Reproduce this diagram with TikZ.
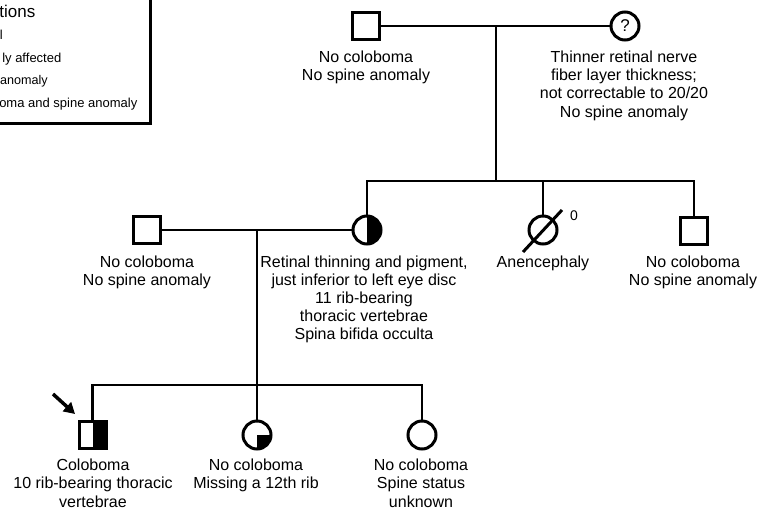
\documentclass[tikz,border=0pt]{standalone}
\usepackage{fontspec}
\setmainfont{Liberation Sans}
\usetikzlibrary{arrows.meta}
\begin{document}
\begin{tikzpicture}[x=1pt,y=-1pt,
  male/.style={draw, line width=3pt, rectangle, minimum size=27pt, inner sep=0pt, fill=white},
  female/.style={draw, line width=3pt, circle, minimum size=28pt, inner sep=0pt, fill=white},
  conn/.style={line width=2.5pt},
  lbl/.style={font=\fontsize{16}{18.1}\selectfont, align=center, anchor=north, inner sep=0pt},
  leg/.style={font=\fontsize{13}{15}\selectfont, anchor=base east, inner sep=0pt},
  righthalf/.style={path picture={\fill[black] (path picture bounding box.north) rectangle (path picture bounding box.south east);}},
  quarter/.style={path picture={\fill[black] (path picture bounding box.center) rectangle (path picture bounding box.south east);}},
]
\useasboundingbox (0,0) rectangle (760,509);

% legend (cut off by the picture border)
\draw[line width=3.5pt] (-20,-20) rectangle (150.5,123.5);
\node[leg, font=\fontsize{17}{20}\selectfont] (legtitle) at (35.5,17.5) {tions};
\node[leg] (leg1) at (3,39) {l};
\node[leg] (leg2) at (61.5,62) {ly affected};
\node[leg, font=\fontsize{12.6}{15}\selectfont] (leg3) at (48,84.5) {anomaly};
\node[leg] (leg4) at (137.5,107) {oma and spine anomaly};

% generation I
\node[male] (gf) at (366,26) {};
\node[female, font=\fontsize{17}{18}\selectfont] (gm) at (625,26) {?};
\draw[conn] (gf.east) -- (gm.west);
\coordinate (d1) at (496,26);
\coordinate (s1) at (496,181);
\draw[conn] (d1) -- (s1);

% generation II
\node[male] (h) at (147,230) {};
\node[female, righthalf] (m) at (367,230) {};
\node[female] (a) at (543,230) {};
\node[male] (b) at (694,231) {};
\draw[conn] (m.north) -- (m.north |- s1) -- (b.north |- s1) -- (b.north);
\draw[conn] (a.north) -- (a.north |- s1);
\draw[conn] (h.east) -- (m.west);
\coordinate (d2) at (257,230);
\coordinate (s2) at (257,385);
\draw[conn] (d2) -- (s2);
\coordinate (sl1) at (523,252);
\coordinate (sl2) at (562,210);
\draw[line width=3pt] (sl1) -- (sl2);
\node[font=\fontsize{14}{16}\selectfont, inner sep=0pt] (zero) at (574,216) {0};

% generation III
\node[male, righthalf] (p) at (92.5,435) {};
\node[female, quarter] (c2) at (257,435) {};
\node[female] (c3) at (422,435) {};
\draw[conn] (p.north) -- (p.north |- s2) -- (c3.north |- s2) -- (c3.north);
\draw[conn] (c2.north) -- (c2.north |- s2);
\coordinate (arrtail) at (53,394);
\coordinate (arrhead) at (75,414);
\draw[line width=3.5pt, -{Triangle[length=11pt,width=12pt]}] (arrtail) -- (arrhead);

% labels
\node[lbl] (tgf) at (366,51) {No coloboma\\No spine anomaly};
\node[lbl] (tgm) at (624,51) {Thinner retinal nerve\\fiber layer thickness;\\not correctable to 20/20\\No spine anomaly};
\node[lbl] (th) at (147,255.5) {No coloboma\\No spine anomaly};
\node[lbl] (tm) at (364,255.5) {Retinal thinning and pigment,\\just inferior to left eye disc\\11 rib-bearing\\thoracic vertebrae\\Spina bifida occulta};
\node[lbl] (ta) at (543,255.5) {Anencephaly};
\node[lbl] (tb) at (693,255.5) {No coloboma\\No spine anomaly};
\node[lbl] (tp) at (93,459) {Coloboma\\10 rib-bearing thoracic\\vertebrae};
\node[lbl] (tc2) at (256,459) {No coloboma\\Missing a 12th rib};
\node[lbl] (tc3) at (421,459) {No coloboma\\Spine status\\unknown};
\end{tikzpicture}
\end{document}
